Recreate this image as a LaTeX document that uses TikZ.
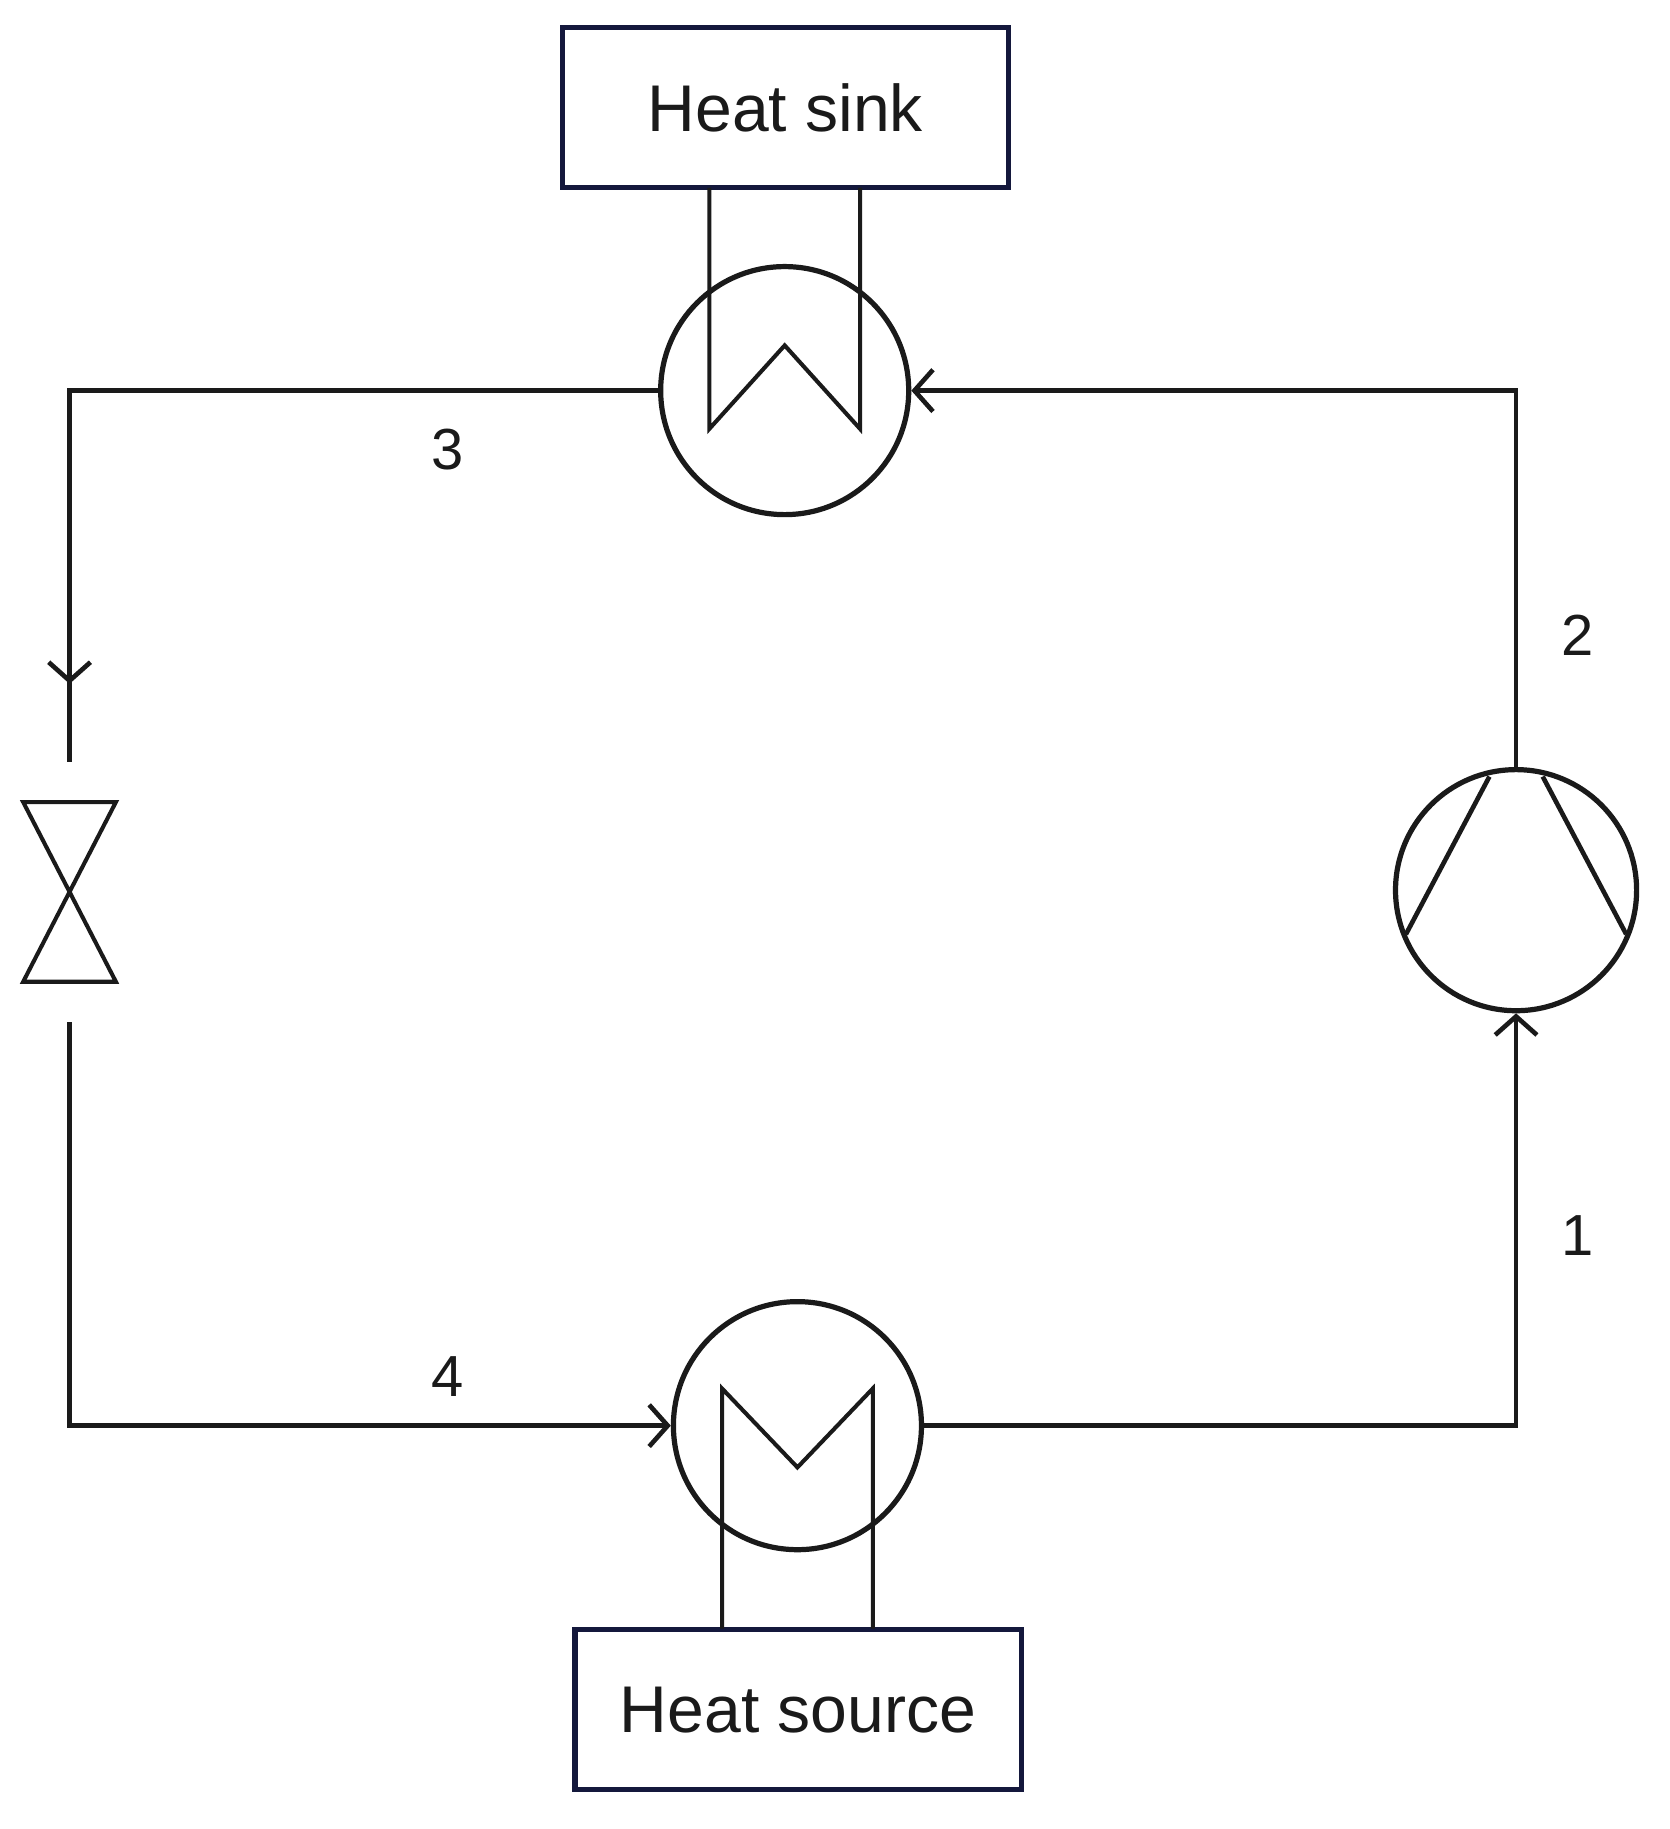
\documentclass[tikz,border=0pt]{standalone}
\usepackage{fontspec}
\setmainfont{Liberation Sans}
\usetikzlibrary{arrows.meta}
\definecolor{navy}{RGB}{20,24,60}
\definecolor{ink}{RGB}{26,26,26}
\begin{document}
\begin{tikzpicture}[x=1pt,y=-1pt,
  line/.style={draw=ink,line width=4pt},
  thin/.style={draw=ink,line width=3.5pt},
  arr/.style={-{Straight Barb[length=16pt,width=36pt,line width=4pt]}},
  box/.style={draw=navy,line width=4.5pt,minimum width=385pt,minimum height=138pt,inner sep=0pt,font=\fontsize{57}{68}\selectfont,text=ink},
  hx/.style={circle,draw=ink,line width=4.5pt,minimum size=214pt,inner sep=0pt},
  lbl/.style={font=\fontsize{50}{60}\selectfont,text=ink}]
\useasboundingbox (0,0) rectangle (1440,1578);
\node[box] (sink) at (677.5,93) {Heat sink};
\node[box] (source) at (688.5,1475) {Heat source};
\node[hx] (hxt) at (677,337) {};
\node[hx] (hxb) at (688,1230) {};
\node[circle,draw=ink,line width=4.5pt,minimum size=208pt,inner sep=0pt] (comp) at (1308,768) {};
% heat exchanger tubes
\draw[thin] (612,162) -- (612,370) -- (677,298) -- (742,370) -- (742,162);
\draw[thin] (623,1405) -- (623,1198) -- (688,1266) -- (753,1198) -- (753,1405);
% compressor lines
\draw[line] (1285,670) -- (1213,806);
\draw[line] (1331,670) -- (1403,806);
% valve
\coordinate (vt) at (60,657);
\coordinate (vb) at (60,882);
\draw[thin] (20,692) -- (100,692) -- (20,847) -- (100,847) -- cycle;
% connectors
\coordinate (c1) at (1308,337);
\coordinate (c2) at (1308,1230);
\coordinate (c3) at (60,337);
\coordinate (c4) at (60,1230);
\draw[line,arr] (comp.north) -- (c1) -- (hxt.east);
\draw[line] (hxt.west) -- (c3) -- (60,590);
\draw[line,arr] (60,540) -- (60,590);
\draw[line] (60,585) -- (vt);
\draw[line,arr] (vb) -- (c4) -- (hxb.west);
\draw[line,arr] (hxb.east) -- (c2) -- (comp.south);
% labels
\node[lbl] (l3) at (386,388) {3};
\node[lbl] (l2) at (1361,548) {2};
\node[lbl] (l1) at (1361,1066) {1};
\node[lbl] (l4) at (386,1188) {4};
\end{tikzpicture}
\end{document}
